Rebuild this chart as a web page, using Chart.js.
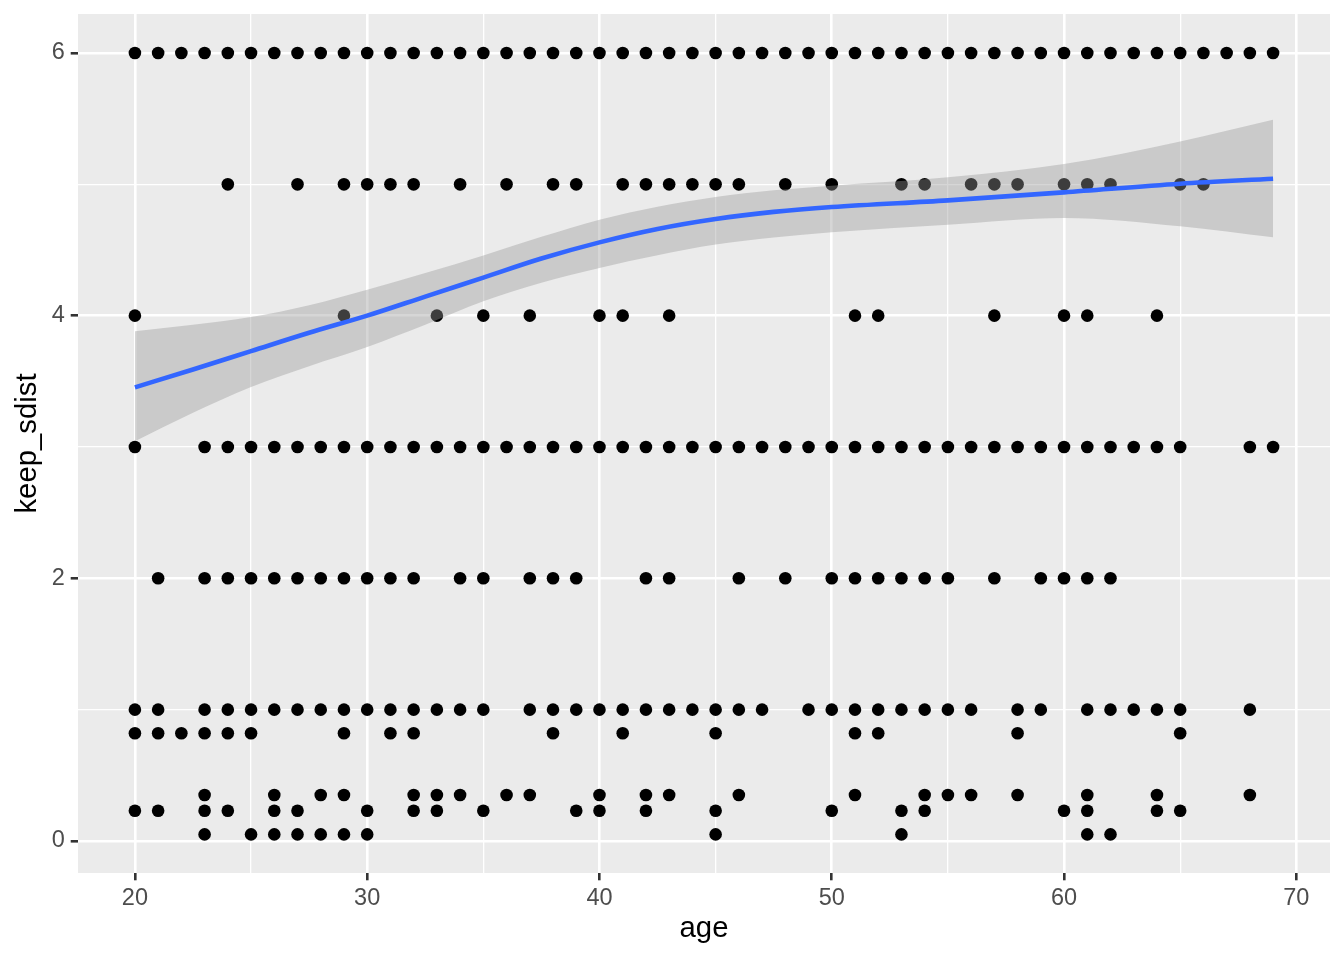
<!DOCTYPE html>
<html>
<head>
<meta charset="utf-8">
<script src="https://cdn.jsdelivr.net/npm/chart.js@4/dist/chart.umd.min.js"></script>
<style>
  html, body { margin: 0; padding: 0; background: #FFFFFF; }
  #wrap { width: 1344px; height: 960px; }
</style>
</head>
<body>
<div id="wrap"><canvas id="c" width="1344" height="960"></canvas></div>
<script>
// ---- data ----
const ages6   = [20,21,22,23,24,25,26,27,28,29,30,31,32,33,34,35,36,37,38,39,40,41,42,43,44,45,46,47,48,49,50,51,52,53,54,55,56,57,58,59,60,61,62,63,64,65,66,67,68,69];
const ages5   = [24,27,29,30,31,32,34,36,38,39,41,42,43,44,45,46,48,50,53,54,56,57,58,60,61,62,65,66];
const ages4   = [20,29,33,35,37,40,41,43,51,52,57,60,61,64];
const ages3   = [20,23,24,25,26,27,28,29,30,31,32,33,34,35,36,37,38,39,40,41,42,43,44,45,46,47,48,49,50,51,52,53,54,55,56,57,58,59,60,61,62,63,64,65,68,69];
const ages2   = [21,23,24,25,26,27,28,29,30,31,32,34,35,37,38,39,42,43,46,48,50,51,52,53,54,55,57,59,60,61,62];
const ages1   = [20,21,23,24,25,26,27,28,29,30,31,32,33,34,35,37,38,39,40,41,42,43,44,45,46,47,49,50,51,52,53,54,55,56,58,59,61,62,63,64,65,68];
const ages082 = [20,21,22,23,24,25,29,31,32,38,41,45,51,52,58,65];
const ages035 = [23,26,28,29,32,33,34,36,37,40,42,43,46,51,54,55,56,58,61,64,68];
const ages023 = [20,21,23,24,26,27,30,32,33,35,39,40,42,45,50,53,54,60,61,64,65];
const ages005 = [23,25,26,27,28,29,30,45,53,61,62];

const levelValues = [6, 5, 4, 3, 2, 1, 0.82, 0.35, 0.23, 0.05];
const levelAges   = [ages6, ages5, ages4, ages3, ages2, ages1, ages082, ages035, ages023, ages005];

// loess smooth + confidence band
const smoothAge = [20, 22.5, 25, 27.5, 30, 32.5, 35, 37.5, 40, 42.5, 45, 47.5, 50, 55, 60, 65, 69];
const smoothFit = [3.454, 3.59, 3.73, 3.87, 4.0, 4.145, 4.29, 4.435, 4.558, 4.66, 4.736, 4.79, 4.827, 4.878, 4.939, 5.005, 5.043];
const smoothHi  = [3.881, 3.93, 3.99, 4.08, 4.198, 4.325, 4.459, 4.6, 4.731, 4.83, 4.904, 4.955, 4.99, 5.053, 5.155, 5.327, 5.492];
const smoothLo  = [3.043, 3.26, 3.457, 3.615, 3.761, 3.93, 4.109, 4.25, 4.363, 4.46, 4.541, 4.595, 4.635, 4.693, 4.744, 4.68, 4.596];

const xTicks = [20, 25, 30, 35, 40, 45, 50, 55, 60, 65, 70];
const yTicks = [0, 1, 2, 3, 4, 5, 6];

// ---- build datasets ----
const points = [];
levelAges.forEach((arr, i) => arr.forEach(a => points.push({x: a, y: levelValues[i]})));
const fitPts = smoothAge.map((a, i) => ({x: a, y: smoothFit[i]}));
const loPts  = smoothAge.map((a, i) => ({x: a, y: smoothLo[i]}));
const hiPts  = smoothAge.map((a, i) => ({x: a, y: smoothHi[i]}));

const panelBg = {
  id: 'panelBg',
  beforeDraw(chart) {
    const {ctx, chartArea: a} = chart;
    ctx.save();
    ctx.fillStyle = '#FFFFFF';
    ctx.fillRect(0, 0, chart.width, chart.height);
    ctx.fillStyle = '#EBEBEB';
    ctx.fillRect(a.left, a.top, a.right - a.left, a.bottom - a.top);
    ctx.restore();
  }
};

const FONT = "'Liberation Sans', Arial, Helvetica, sans-serif";
const isMajX = v => v % 10 === 0;
const isMajY = v => v % 2 === 0;
const MAJ = 2.6, MIN = 1.3;
const noPad = s => { s.paddingTop = 0; s.paddingBottom = 0; s.paddingLeft = 0; s.paddingRight = 0; };

new Chart(document.getElementById('c'), {
  data: {
    datasets: [
      {
        type: 'line', data: fitPts, borderColor: '#3366FF', borderWidth: 4.6,
        pointRadius: 0, fill: false, cubicInterpolationMode: 'monotone', order: 1
      },
      {
        type: 'line', data: loPts, borderColor: 'rgba(0,0,0,0)', borderWidth: 0,
        pointRadius: 0, fill: false, cubicInterpolationMode: 'monotone', order: 2
      },
      {
        type: 'line', data: hiPts, borderColor: 'rgba(0,0,0,0)', borderWidth: 0,
        pointRadius: 0, fill: '-1', backgroundColor: 'rgba(153,153,153,0.4)',
        cubicInterpolationMode: 'monotone', order: 2
      },
      {
        type: 'scatter', data: points, backgroundColor: '#000000', borderWidth: 0,
        pointRadius: 6.3, pointHoverRadius: 6.3, order: 3
      }
    ]
  },
  options: {
    responsive: false,
    animation: false,
    devicePixelRatio: 1,
    layout: { padding: { top: 14, right: 14, left: 0, bottom: 0 } },
    plugins: { legend: { display: false }, tooltip: { enabled: false } },
    scales: {
      x: {
        type: 'linear', position: 'bottom', min: 17.55, max: 71.45,
        afterBuildTicks: s => { s.ticks = xTicks.map(v => ({value: v})); },
        afterFit: s => { s.height = 87; noPad(s); },
        border: { display: false },
        grid: {
          color: '#FFFFFF',
          lineWidth: c => (c.tick && isMajX(c.tick.value)) ? MAJ : MIN,
          tickColor: c => (c.tick && isMajX(c.tick.value)) ? '#333333' : 'rgba(0,0,0,0)',
          tickWidth: MAJ,
          tickLength: 7.3,
          drawTicks: true
        },
        ticks: {
          autoSkip: false, maxRotation: 0,
          callback: v => isMajX(v) ? String(v) : '',
          color: '#4D4D4D', font: { family: FONT, size: 23.5 }, padding: 3.7
        },
        title: {
          display: true, text: 'age', color: '#000000',
          font: { family: FONT, size: 29.3 }, padding: { top: 0, bottom: 13.4 }
        }
      },
      y: {
        type: 'linear', position: 'left', min: -0.244, max: 6.297,
        afterBuildTicks: s => { s.ticks = yTicks.map(v => ({value: v})); },
        afterFit: s => { s.width = 78; noPad(s); },
        border: { display: false },
        grid: {
          color: '#FFFFFF',
          lineWidth: c => (c.tick && isMajY(c.tick.value)) ? MAJ : MIN,
          tickColor: c => (c.tick && isMajY(c.tick.value)) ? '#333333' : 'rgba(0,0,0,0)',
          tickWidth: MAJ,
          tickLength: 7.3,
          drawTicks: true
        },
        ticks: {
          autoSkip: false,
          callback: v => isMajY(v) ? String(v) : '',
          color: '#4D4D4D', font: { family: FONT, size: 23.5 }, padding: 6
        },
        title: {
          display: true, text: 'keep_sdist', color: '#000000',
          font: { family: FONT, size: 29.3 }, padding: { top: 10.4, bottom: 0 }
        }
      }
    }
  },
  plugins: [panelBg]
});
</script>
</body>
</html>
